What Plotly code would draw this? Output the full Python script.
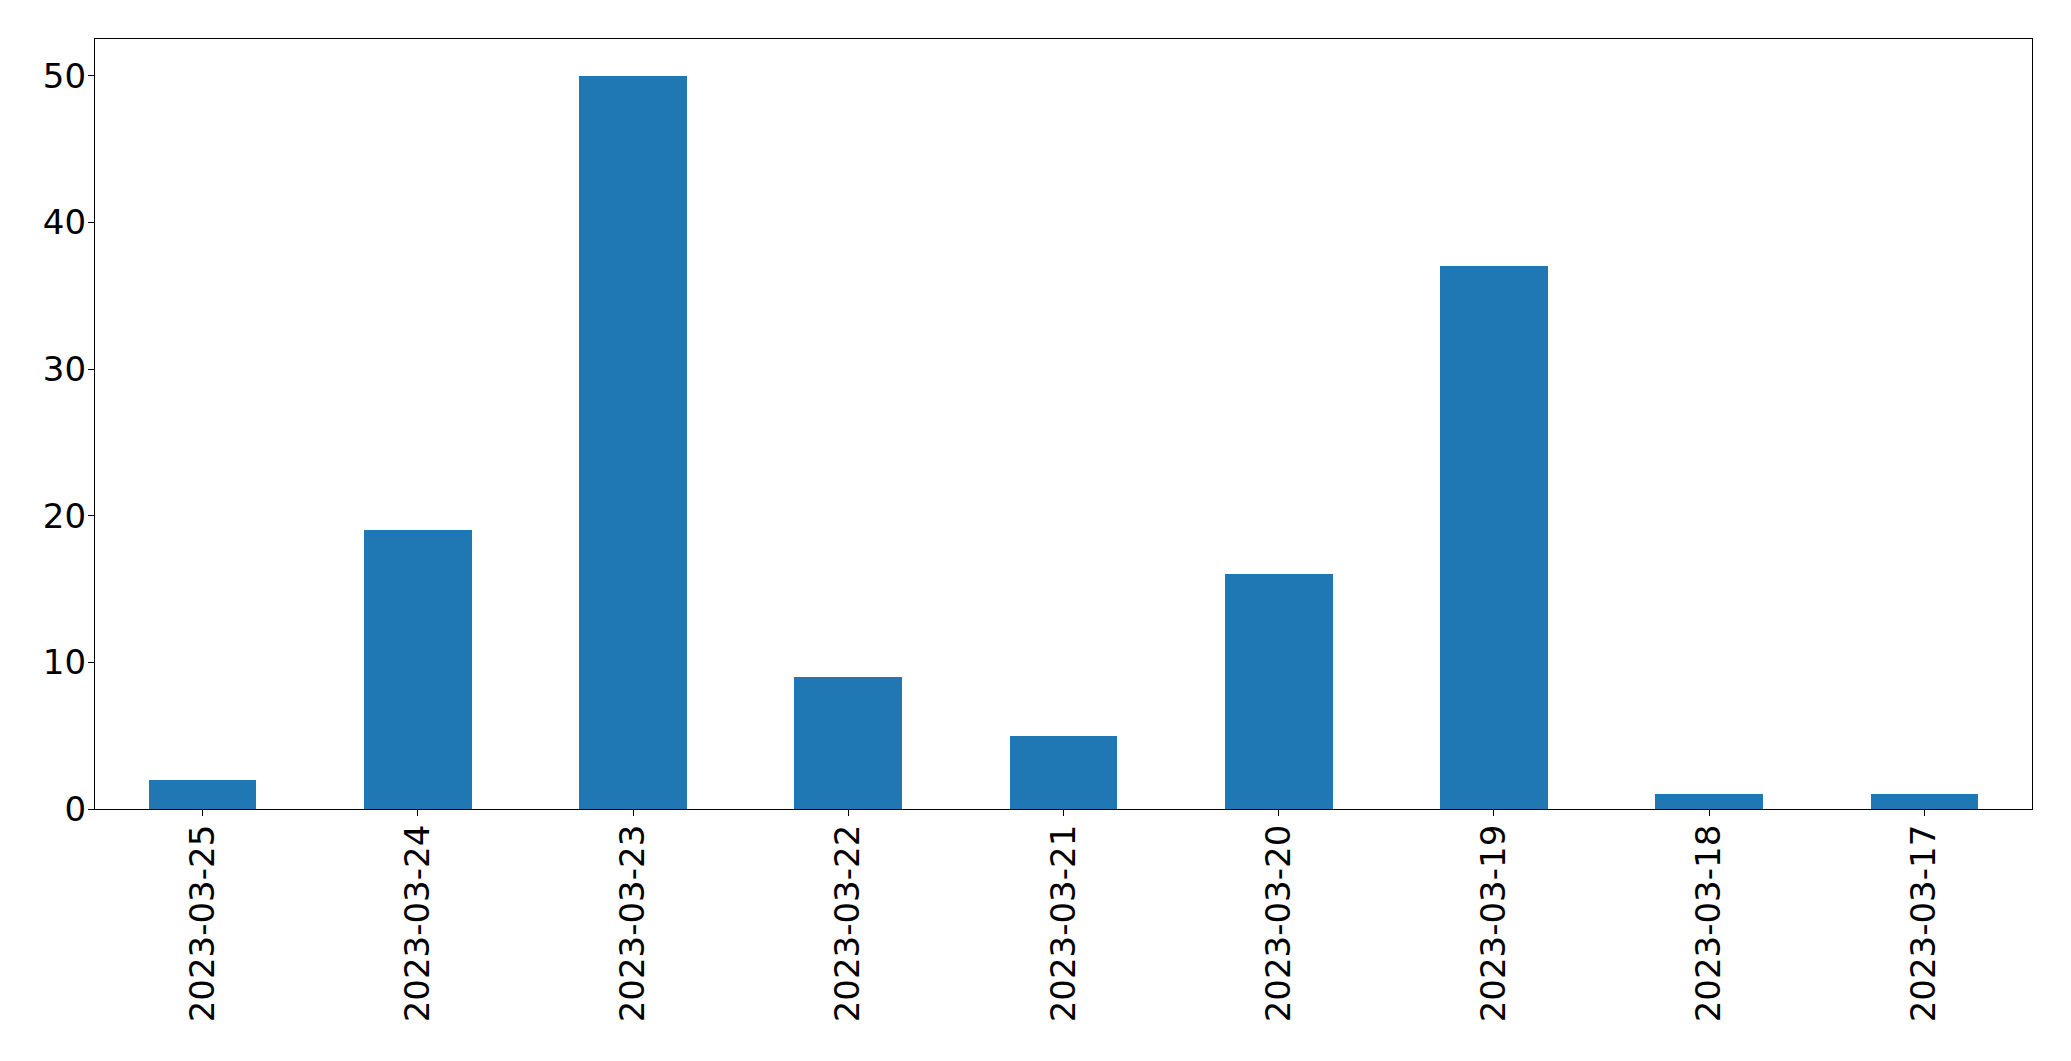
import plotly.graph_objects as go

dates = ["2023-03-25", "2023-03-24", "2023-03-23", "2023-03-22", "2023-03-21",
         "2023-03-20", "2023-03-19", "2023-03-18", "2023-03-17"]
counts = [2, 19, 50, 9, 5, 16, 37, 1, 1]
y_ticks = [0, 10, 20, 30, 40, 50]

fig = go.Figure(go.Bar(
    x=list(range(len(dates))), y=counts, width=0.5,
    marker=dict(color="#1f77b4", line=dict(width=0)),
))

fig.update_layout(
    width=2071, height=1061,
    margin=dict(l=87, r=47, t=31, b=260, autoexpand=False),
    paper_bgcolor="white", plot_bgcolor="white",
    font=dict(family="DejaVu Sans", size=34, color="black"),
    showlegend=False,
    bargap=0,
)
fig.update_xaxes(
    range=[-0.5, len(dates) - 0.5],
    tickmode="array", tickvals=list(range(len(dates))), ticktext=dates,
    tickangle=-90,
    showline=True, linecolor="black", linewidth=1.3, mirror=True,
    ticks="outside", ticklen=6, tickwidth=1.3, tickcolor="black",
    showgrid=False, zeroline=False,
    ticklabelstandoff=-5,
)
fig.update_yaxes(
    range=[0, 52.5],
    tickmode="array", tickvals=y_ticks,
    showline=True, linecolor="black", linewidth=1.3, mirror=True,
    ticks="outside", ticklen=6, tickwidth=1.3, tickcolor="black",
    showgrid=False, zeroline=False,
    ticklabelstandoff=-5,
)

fig.write_html("out.html")
